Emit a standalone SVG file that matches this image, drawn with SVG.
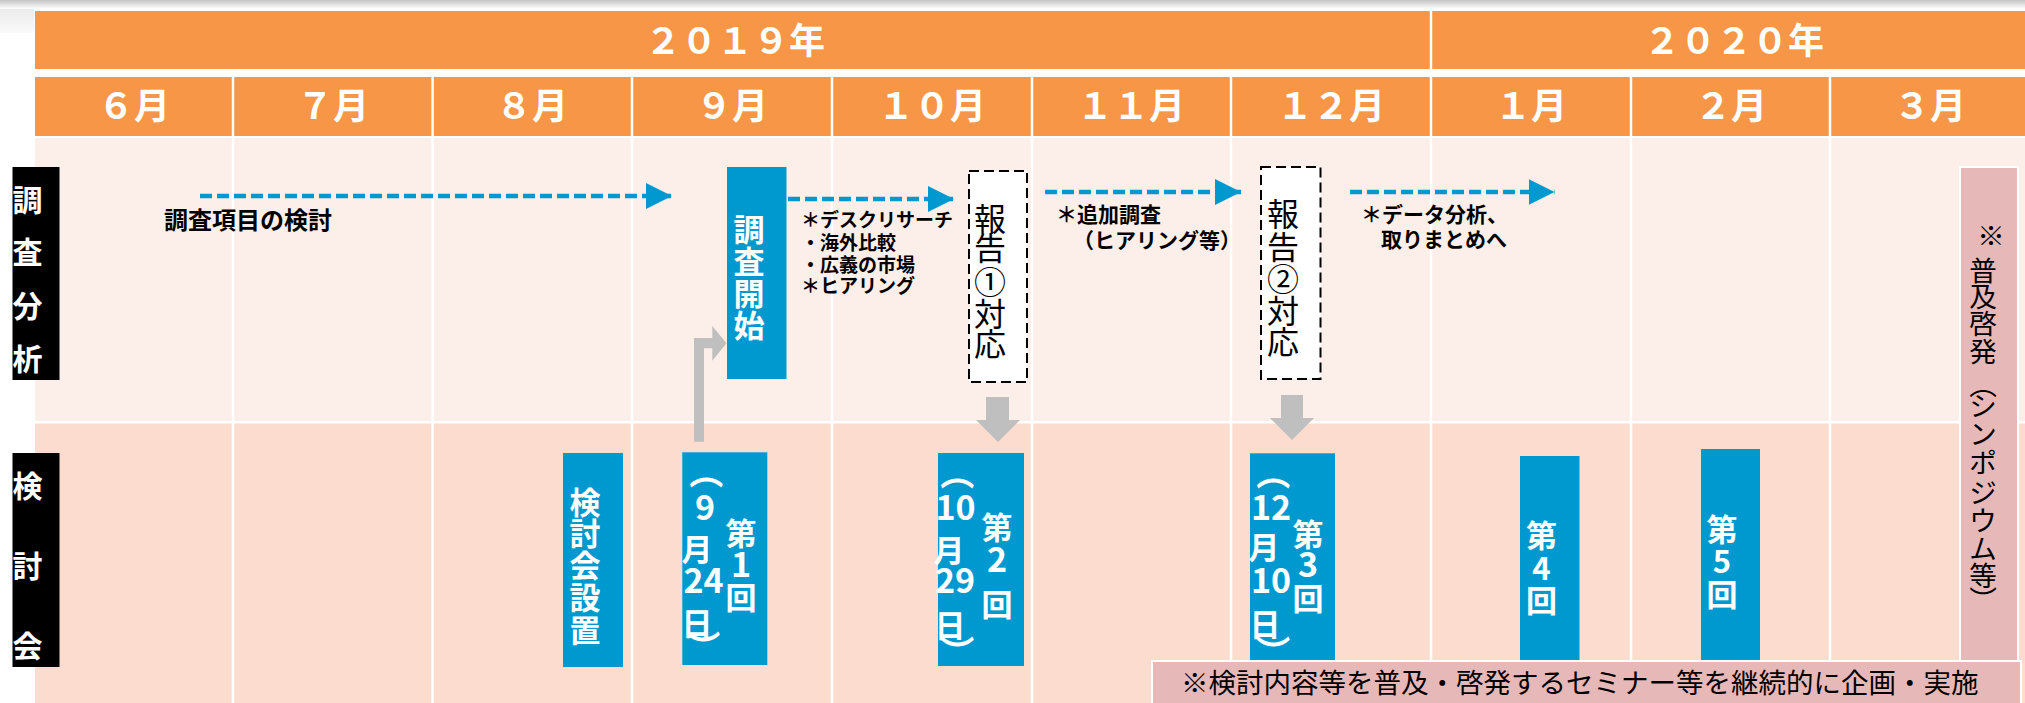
<svg xmlns="http://www.w3.org/2000/svg" width="2025" height="703" viewBox="0 0 2025 703">
<style>
text{font-family:"Noto Sans CJK JP","Noto Sans",sans-serif}
.org{fill:#F79646}
.yt{font-size:36px;fill:#fff;text-anchor:middle;font-weight:bold}
.mt{font-size:36px;fill:#fff;text-anchor:middle;font-weight:bold}
.vl{stroke:#fff;stroke-width:2.5}
.blk{fill:#000}
.blkt{fill:#fff;font-weight:bold;font-size:30px}
.blue{fill:#0099CF}
.bt{fill:#fff;font-weight:bold;font-size:31px;text-anchor:middle}
.dig{font-size:34px}
.dbox{fill:#fff;stroke:#000;stroke-width:2;stroke-dasharray:10 5}
.rt{font-size:32px;text-anchor:middle;fill:#000}
.nt{font-weight:bold;fill:#000}
.flow{stroke:#0099CF;stroke-width:4.5;stroke-dasharray:12 5;fill:none;marker-end:url(#ah)}
.gray{fill:#BFBFBF}
.pink{fill:#E6B9B8;stroke:#fff;stroke-width:2}
.pt{font-size:27.5px;fill:#000}
</style>
<defs>
<linearGradient id="topg" x1="0" y1="0" x2="0" y2="1"><stop offset="0" stop-color="#c4c4c4"/><stop offset="1" stop-color="#ffffff"/></linearGradient>
<linearGradient id="leftg" x1="0" y1="0" x2="0" y2="1"><stop offset="0" stop-color="#e6e6e6"/><stop offset="1" stop-color="#fafafa"/></linearGradient>
<marker id="ah" viewBox="0 0 26 26" refX="26" refY="13" markerWidth="26" markerHeight="26" markerUnits="userSpaceOnUse" orient="auto"><path d="M0,0 L26,13 L0,26 Z" fill="#0099CF"/></marker>
</defs>
<rect x="0" y="0" width="2025" height="703" fill="#fff"/>
<rect x="0" y="0" width="34" height="33" fill="url(#leftg)"/>
<rect x="0" y="0" width="2025" height="9" fill="url(#topg)"/>

<g id="header">
<rect class="org" x="35" y="11" width="1990" height="58"/>
<line class="vl" x1="1431" y1="11" x2="1431" y2="69"/>
<text class="yt" x="735" y="53.5">２０１９年</text>
<text class="yt" x="1734" y="53.5">２０２０年</text>
<rect class="org" x="35" y="77" width="1990" height="59"/>
<text class="mt" x="134" y="118.5">６月</text>
<text class="mt" x="333" y="118.5">７月</text>
<text class="mt" x="532" y="118.5">８月</text>
<text class="mt" x="732" y="118.5">９月</text>
<text class="mt" x="932" y="118.5">１０月</text>
<text class="mt" x="1131" y="118.5">１１月</text>
<text class="mt" x="1331" y="118.5">１２月</text>
<text class="mt" x="1531" y="118.5">１月</text>
<text class="mt" x="1731" y="118.5">２月</text>
<text class="mt" x="1930" y="118.5">３月</text>
</g>

<g id="grid">
<rect x="35" y="138" width="1990" height="283" fill="#FCEEE9"/>
<rect x="35" y="423.5" width="1990" height="280" fill="#FBDCCF"/>
<line class="vl" x1="233" y1="77" x2="233" y2="703"/>
<line class="vl" x1="432.6" y1="77" x2="432.6" y2="703"/>
<line class="vl" x1="632" y1="77" x2="632" y2="703"/>
<line class="vl" x1="832" y1="77" x2="832" y2="703"/>
<line class="vl" x1="1032" y1="77" x2="1032" y2="703"/>
<line class="vl" x1="1231" y1="77" x2="1231" y2="703"/>
<line class="vl" x1="1431" y1="77" x2="1431" y2="703"/>
<line class="vl" x1="1631" y1="77" x2="1631" y2="703"/>
<line class="vl" x1="1830" y1="77" x2="1830" y2="703"/>
</g>

<g id="label-chousa">
<rect class="blk" x="12.5" y="167" width="47" height="213"/>
<text class="blkt" x="12.5 12.5 12.5 12.5" y="211 263 317 370">調査分析</text>
</g>
<g id="label-kentoukai">
<rect class="blk" x="12.5" y="453" width="47" height="214"/>
<text class="blkt" x="12.5 12.5 12.5" y="497 577 657">検討会</text>
</g>

<g id="note-koumoku">
<text class="nt" x="164" y="229" font-size="24">調査項目の検討</text>
</g>

<g id="node-chousakaishi">
<rect class="blue" x="727" y="167" width="59.5" height="212"/>
<text class="bt" x="749 749 749 749" y="241 273 305 337">調査開始</text>
</g>

<g id="note-desk">
<text class="nt" font-size="19"><tspan x="801" y="227">＊デスクリサーチ</tspan><tspan x="801" y="249.5">・海外比較</tspan><tspan x="801" y="271.5">・広義の市場</tspan><tspan x="801" y="292.5">＊ヒアリング</tspan></text>
</g>

<g id="node-houkoku1">
<rect class="dbox" x="969" y="171" width="58" height="211"/>
<text class="rt" x="990 990 990 990 990" y="231 260 294 326 356">報告①対応</text>
</g>

<g id="note-tsuika">
<text class="nt" font-size="21"><tspan x="1056" y="222">＊追加調査</tspan><tspan x="1073" y="248">（ヒアリング等）</tspan></text>
</g>

<g id="node-houkoku2">
<rect class="dbox" x="1261" y="167" width="59.5" height="212"/>
<text class="rt" x="1283 1283 1283 1283 1283" y="226 259 291 323 354">報告②対応</text>
</g>

<g id="note-data">
<text class="nt" font-size="21"><tspan x="1361" y="222">＊データ分析、</tspan><tspan x="1381" y="247">取りまとめへ</tspan></text>
</g>

<g id="node-secchi">
<rect class="blue" x="563" y="453" width="60" height="214"/>
<text class="bt" x="585 585 585 585 585" y="514 545 577 609 642">検討会設置</text>
</g>

<g id="node-dai1">
<rect class="blue" x="682.3" y="452.3" width="85" height="212.7"/>
<text class="bt"><tspan class="dig" x="709.6" y="455" rotate="90">（</tspan><tspan class="dig" x="705" y="520">9</tspan><tspan x="697" y="560.5">月</tspan><tspan class="dig" x="703.5" y="593">24</tspan><tspan x="697" y="634.5">日</tspan><tspan class="dig" x="707" y="630" rotate="90">）</tspan></text>
<text class="bt"><tspan x="741" y="544.5">第</tspan><tspan class="dig" x="741" y="577">1</tspan><tspan x="741" y="608.5">回</tspan></text>
</g>

<g id="node-dai2">
<rect class="blue" x="938" y="453" width="86" height="213"/>
<text class="bt"><tspan class="dig" x="960.6" y="456" rotate="90">（</tspan><tspan class="dig" x="955.5" y="520">10</tspan><tspan x="949" y="561.5">月</tspan><tspan class="dig" x="955" y="593">29</tspan><tspan x="950" y="636.5">日</tspan><tspan class="dig" x="960.6" y="635" rotate="90">）</tspan></text>
<text class="bt"><tspan x="997" y="539">第</tspan><tspan class="dig" x="997" y="572">2</tspan><tspan x="997" y="615.5">回</tspan></text>
</g>

<g id="node-dai3">
<rect class="blue" x="1250" y="453.3" width="85" height="216"/>
<text class="bt"><tspan class="dig" x="1276.6" y="456" rotate="90">（</tspan><tspan class="dig" x="1271" y="520">12</tspan><tspan x="1264" y="559">月</tspan><tspan class="dig" x="1271" y="593">10</tspan><tspan x="1265" y="636">日</tspan><tspan class="dig" x="1276.6" y="635" rotate="90">）</tspan></text>
<text class="bt"><tspan x="1308" y="545.5">第</tspan><tspan class="dig" x="1308" y="577">3</tspan><tspan x="1308" y="609.5">回</tspan></text>
</g>

<g id="node-dai4">
<rect class="blue" x="1520" y="456" width="59.5" height="214"/>
<text class="bt" x="1541.5 1541.5 1541.5" y="547 580 612">第4回</text>
</g>

<g id="node-dai5">
<rect class="blue" x="1701" y="449" width="59" height="221"/>
<text class="bt" x="1722 1722 1722" y="540.5 573 605.5">第5回</text>
</g>

<g id="connectors">
<line class="flow" x1="200" y1="196" x2="672" y2="196"/>
<line class="flow" x1="788" y1="199" x2="954" y2="199"/>
<line class="flow" x1="1045" y1="192" x2="1241" y2="192"/>
<line class="flow" x1="1350" y1="192" x2="1554.5" y2="192"/>
<polygon class="gray" points="694,441.7 694,338 712.3,338 712.3,326 726.5,343.2 712.3,360.7 712.3,348.3 704,348.3 704,441.7"/>
<polygon class="gray" points="986,397 1009,397 1009,420 1020,420 998,442 976,420 986,420"/>
<polygon class="gray" points="1281,395 1303,395 1303,418 1314,418 1292,440 1270,418 1281,418"/>
</g>

<g id="node-seminar">
<rect class="pink" x="1152" y="661" width="869" height="50"/>
<text class="pt" font-size="28" x="1181" y="693">※検討内容等を普及・啓発するセミナー等を継続的に企画・実施</text>
</g>

<g id="node-fukyu">
<rect class="pink" x="1960" y="167" width="58" height="494"/>
<text class="pt" text-anchor="middle"><tspan x="1991" y="245.5">※</tspan><tspan x="1983" y="280.5">普</tspan><tspan x="1983" y="306.5">及</tspan><tspan x="1983" y="333.5">啓</tspan><tspan x="1983" y="361.5">発</tspan><tspan x="1986.7" y="371" rotate="90">（</tspan><tspan x="1983" y="415.5">シ</tspan><tspan x="1983" y="443.5">ン</tspan><tspan x="1983" y="472.5">ポ</tspan><tspan x="1983" y="502.5">ジ</tspan><tspan x="1983" y="530.5">ウ</tspan><tspan x="1983" y="558.5">ム</tspan><tspan x="1983" y="586">等</tspan><tspan x="1986.7" y="586" rotate="90">）</tspan></text>
</g>
</svg>
